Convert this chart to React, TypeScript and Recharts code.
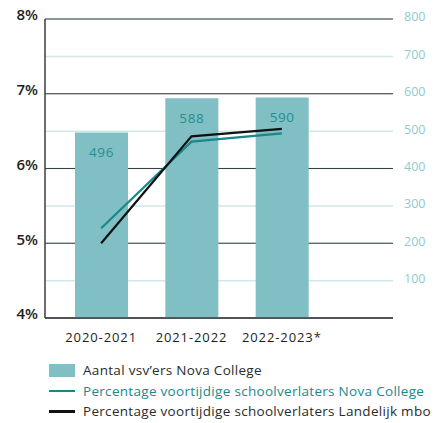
import React from "react";
import {
  ComposedChart,
  Bar,
  Line,
  XAxis,
  YAxis,
  CartesianGrid,
  LabelList,
} from "recharts";

document.body.style.margin = "0";

const years = ["2020-2021", "2021-2022", "2022-2023*"];
const vsvCount = [496, 588, 590];
const pctNova = [5.2, 6.36, 6.47];
const pctNational = [5.0, 6.43, 6.53];

const pctTicks = [4, 5, 6, 7, 8];
const countTicks = [100, 200, 300, 400, 500, 600, 700, 800];

const COLORS = {
  bar: "#80bfc3",
  barLabel: "#25908f",
  nova: "#17898b",
  national: "#111111",
  gridDark: "#3a3f40",
  gridLight: "#cfe8ea",
  rightTick: "#8ecbcf",
};

const FONT = "'Open Sans', sans-serif";

const data = years.map((year, i) => ({
  year,
  count: vsvCount[i],
  nova: pctNova[i],
  national: pctNational[i],
}));

const legendItems = [
  { label: "Aantal vsv\u2019ers Nova College", color: COLORS.bar, kind: "box", text: "#2b2b2b" },
  { label: "Percentage voortijdige schoolverlaters Nova College", color: COLORS.nova, kind: "line", text: COLORS.nova },
  { label: "Percentage voortijdige schoolverlaters Landelijk mbo", color: COLORS.national, kind: "line", text: "#2b2b2b" },
];

export default function App() {
  return (
    <div style={{ position: "relative", width: 435, height: 423, fontFamily: FONT }}>
      <ComposedChart
        width={435}
        height={423}
        data={data}
        margin={{ top: 19, right: 0, left: 0, bottom: 75 }}
      >
        <CartesianGrid
          yAxisId="right"
          vertical={false}
          stroke={COLORS.gridLight}
          strokeWidth={1.5}
        />
        <CartesianGrid
          yAxisId="left"
          vertical={false}
          stroke={COLORS.gridDark}
          strokeWidth={1}
        />
        <XAxis
          dataKey="year"
          padding={{ left: 11, right: 66 }}
          tickLine={false}
          tickSize={0}
          tickMargin={15}
          height={30}
          axisLine={{ stroke: COLORS.gridDark, strokeWidth: 1.5 }}
          tick={{ fill: "#1e1e1e", fontSize: 13, fontWeight: 500, fontFamily: FONT, letterSpacing: 0.9 }}
        />
        <YAxis
          yAxisId="left"
          width={45}
          domain={[4, 8]}
          ticks={pctTicks}
          tickFormatter={(v) => `${v}%`}
          tickLine={false}
          tickSize={0}
          tickMargin={7}
          axisLine={{ stroke: COLORS.gridDark, strokeWidth: 1.5 }}
          tick={{ fill: "#1e1e1e", fontSize: 15, fontWeight: 600, fontFamily: FONT, dy: -4 }}
        />
        <YAxis
          yAxisId="right"
          orientation="right"
          width={42}
          domain={[0, 800]}
          ticks={countTicks}
          tickLine={false}
          tickSize={0}
          tickMargin={11}
          axisLine={false}
          tick={{ fill: COLORS.rightTick, fontSize: 12.5, fontFamily: FONT, dy: -2 }}
        />
        <Bar
          yAxisId="right"
          dataKey="count"
          fill={COLORS.bar}
          barSize={53}
          isAnimationActive={false}
        >
          <LabelList
            dataKey="count"
            position="insideTop"
            offset={15}
            fill={COLORS.barLabel}
            fontSize={13.5}
            fontFamily={FONT}
            letterSpacing={0.6}
          />
        </Bar>
        <Line
          yAxisId="left"
          dataKey="nova"
          stroke={COLORS.nova}
          strokeWidth={2.2}
          dot={false}
          type="linear"
          isAnimationActive={false}
        />
        <Line
          yAxisId="left"
          dataKey="national"
          stroke={COLORS.national}
          strokeWidth={2.2}
          dot={false}
          type="linear"
          isAnimationActive={false}
        />
      </ComposedChart>
      <div style={{ position: "absolute", left: 49, top: 360 }}>
        {legendItems.map((item) => (
          <div
            key={item.label}
            style={{ display: "flex", alignItems: "center", height: 20.5 }}
          >
            <div style={{ width: 26, display: "flex", alignItems: "center" }}>
              {item.kind === "box" ? (
                <div style={{ width: 26, height: 13, background: item.color }} />
              ) : (
                <div style={{ width: 26, height: 2.5, background: item.color }} />
              )}
            </div>
            <span
              style={{
                marginLeft: 8,
                fontSize: 13.5,
                letterSpacing: 0.3,
                color: item.text,
                whiteSpace: "nowrap",
              }}
            >
              {item.label}
            </span>
          </div>
        ))}
      </div>
    </div>
  );
}
